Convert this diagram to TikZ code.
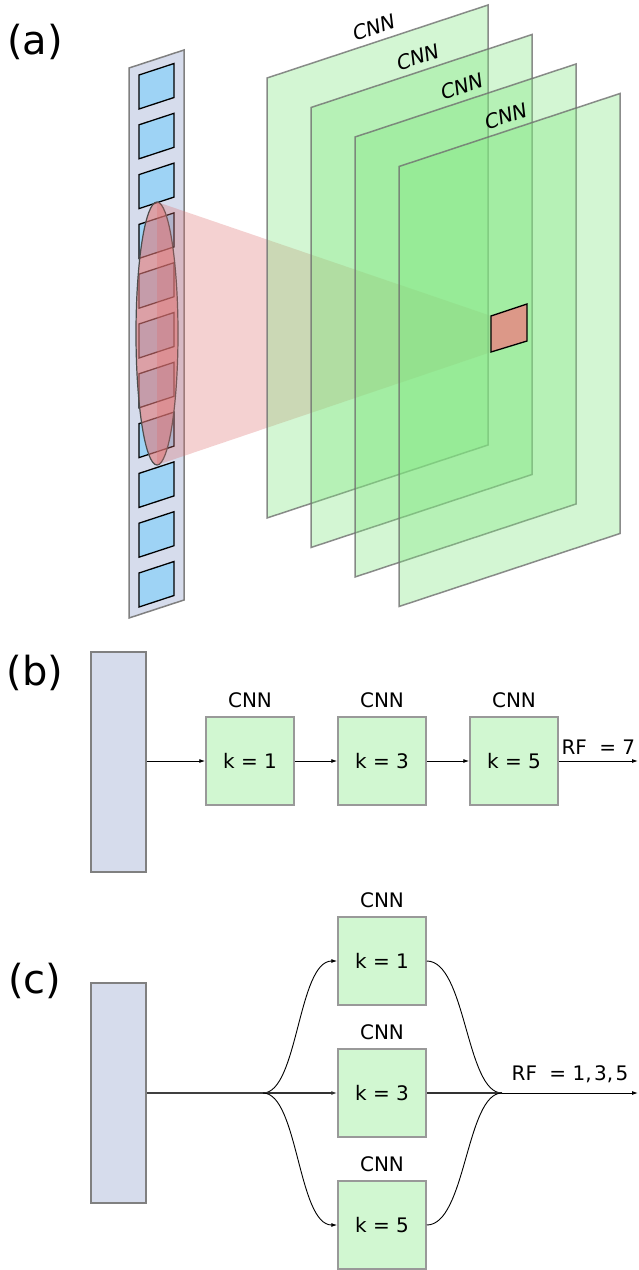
\documentclass[tikz,border=0pt]{standalone}
\usepackage{fontspec}
\setmainfont{DejaVu Sans}
\newfontfamily\oblfont{DejaVu Sans}[FakeSlant=0.2]
\usetikzlibrary{arrows.meta}
\definecolor{colfill}{HTML}{D6DCEC}
\definecolor{colline}{HTML}{808080}
\definecolor{sqfill}{HTML}{9ED3F5}
\definecolor{boxfill}{HTML}{D1F7D1}
\definecolor{boxline}{HTML}{999999}
\definecolor{planefill}{RGB}{128,230,128}
\definecolor{planeline}{HTML}{707070}
\definecolor{redsq}{HTML}{DC9888}
\definecolor{ellred}{HTML}{E07878}
\definecolor{conered}{HTML}{DC7070}
\begin{document}
\begin{tikzpicture}[x=1pt,y=-1pt,
  font=\fontsize{20}{24}\selectfont,
  panel/.style={font=\fontsize{40}{44}\selectfont, inner sep=0pt},
  colbar/.style={draw=colline, line width=1.5pt, fill=colfill},
  sqcell/.style={draw=black, line width=1.3pt, fill=sqfill},
  plane/.style={fill=planefill, fill opacity=0.35, draw=planeline, draw opacity=0.8, line width=1.5pt},
  convbox/.style={draw=boxline, line width=1.5pt, fill=boxfill, minimum width=88pt, minimum height=88pt, inner sep=0pt},
  inbar/.style={draw=colline, line width=2pt, fill=colfill, minimum width=55pt, minimum height=220pt, inner sep=0pt},
  conn/.style={line width=0.9pt, -{Latex[length=6pt,width=4pt]}},
  plain/.style={line width=0.9pt},
  cnnlabel/.style={inner sep=0pt, label distance=8pt},
]
\useasboundingbox (0,0) rectangle (639,1270);

% ---------- panel labels
\node[panel] (la) at (35,42) {(a)};
\node[panel] (lb) at (35,673) {(b)};
\node[panel] (lc) at (35,981) {(c)};

% ---------- (a) column
\filldraw[colbar] (129,68) -- (184,50) -- (184,600) -- (129,618) -- cycle;
\foreach \i in {0,...,10} {
  \filldraw[sqcell] (139,75+49.8*\i) -- (174,63.5+49.8*\i) -- (174,97.5+49.8*\i) -- (139,109+49.8*\i) -- cycle;
}

% ---------- (a) ellipse and cone
\filldraw[fill=ellred, fill opacity=0.6, draw=black!70, line width=1.2pt] (157,333.5) ellipse [x radius=21, y radius=131.5];
\coordinate (ctop) at (157,202);
\coordinate (cbot) at (157,465);
\coordinate (stl) at (491,316);
\coordinate (str) at (527,304);
\coordinate (sbr) at (527,341);
\coordinate (sbl) at (491,352);
\fill[conered, fill opacity=0.32] (ctop) -- (stl) -- (sbl) -- (cbot) -- cycle;

% ---------- (a) planes
\foreach \i in {0,1,2,3} {
  \pgfmathsetmacro\dx{44*\i}
  \pgfmathsetmacro\dy{29.5*\i}
  \filldraw[plane] (267+\dx,78+\dy) -- (488+\dx,5+\dy) -- (488+\dx,445+\dy) -- (267+\dx,518+\dy) -- cycle;
  \path (267+\dx,78+\dy) -- node[sloped, above=4pt, inner sep=2.5pt, font=\fontsize{20}{24}\oblfont] (cnn\i) {CNN} (488+\dx,5+\dy);
}

% ---------- (a) target cell
\filldraw[fill=redsq, draw=black, line width=1.3pt] (stl) -- (str) -- (sbr) -- (sbl) -- cycle;

% ---------- (b)
\node[inbar] (bin) at (118,761.5) {};
\node[convbox, label={[cnnlabel]above:CNN}] (b1) at (250,761) {k = 1};
\node[convbox, label={[cnnlabel]above:CNN}] (b2) at (382,761) {k = 3};
\node[convbox, label={[cnnlabel]above:CNN}] (b3) at (514,761) {k = 5};
\coordinate (bout) at (638,761);
\draw[conn] (bin.east |- b1.west) -- (b1.west);
\draw[conn] (b1.east) -- (b2.west);
\draw[conn] (b2.east) -- (b3.west);
\draw[conn] (b3.east) -- node[above=6pt, inner sep=0pt] (rfb) {RF\hspace{0.3em} = 7} (bout);

% ---------- (c)
\node[inbar] (cin) at (118,1092.5) {};
\node[convbox, label={[cnnlabel]above:CNN}] (c1) at (382,961) {k = 1};
\node[convbox, label={[cnnlabel]above:CNN}] (c2) at (382,1093) {k = 3};
\node[convbox, label={[cnnlabel]above:CNN}] (c3) at (382,1225) {k = 5};
\coordinate (split) at (263,1093);
\coordinate (merge) at (502,1093);
\coordinate (cout) at (638,1093);
\draw[line width=1.3pt, black!75] (cin.east |- split) -- (split);
\draw[conn] (split) .. controls (298,1093) and (298,961) .. (c1.west);
\draw[conn, line width=1.2pt, black!80] (split) -- (c2.west);
\draw[conn] (split) .. controls (298,1093) and (298,1225) .. (c3.west);
\draw[plain] (c1.east) .. controls (466,961) and (466,1093) .. (merge);
\draw[plain, line width=1.2pt, black!80] (c2.east) -- (merge);
\draw[plain] (c3.east) .. controls (466,1225) and (466,1093) .. (merge);
\draw[conn] (merge) -- node[above=10pt, inner sep=0pt] (rfc) {RF\hspace{0.3em} = 1,\hspace{0.12em}3,\hspace{0.12em}5} (cout);
\end{tikzpicture}
\end{document}
